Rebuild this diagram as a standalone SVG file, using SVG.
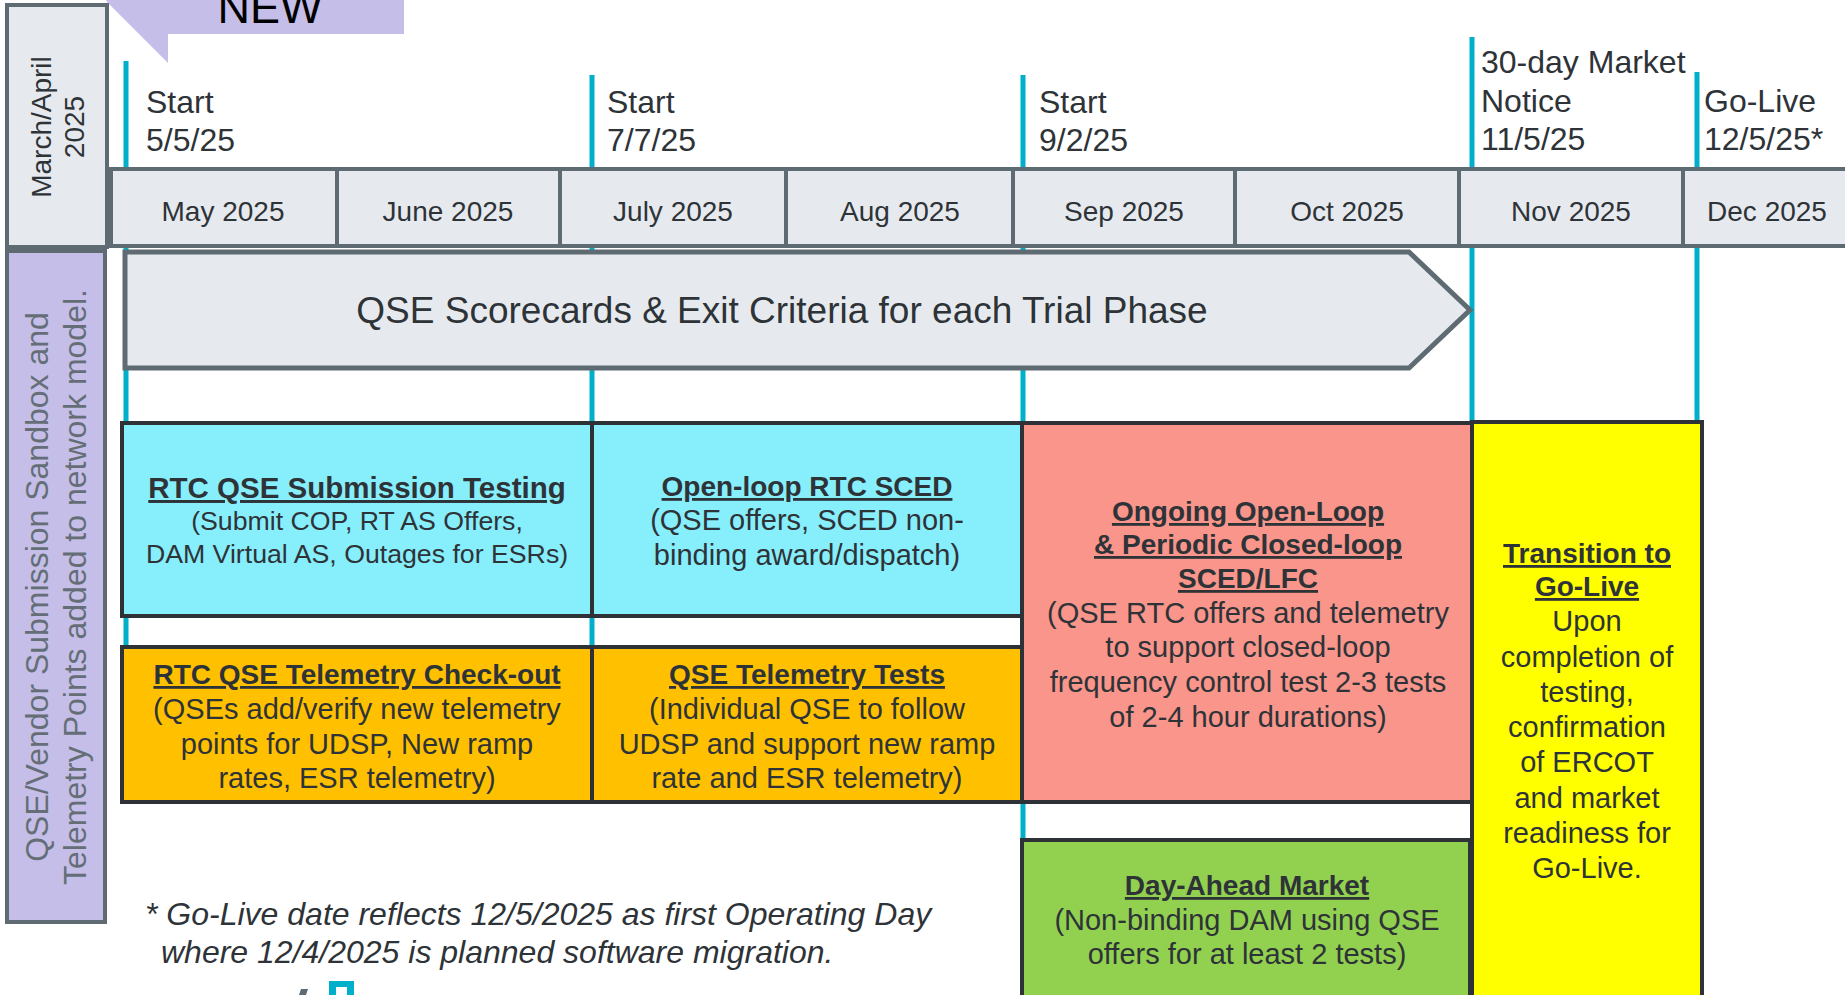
<svg xmlns="http://www.w3.org/2000/svg" width="1845" height="995" viewBox="0 0 1845 995">
<style>
text{font-family:"Liberation Sans",Arial,sans-serif;fill:#2e3338}
.lbl{font-size:32px}
.mon{font-size:28px;text-anchor:middle}
.cell{fill:#e6eaee;stroke:#5f6b73;stroke-width:4}
.box{stroke:#2e3237;stroke-width:4}
.t{font-size:28px;font-weight:bold;text-decoration:underline;text-anchor:middle}
.b{font-size:29px;text-anchor:middle}
.cy{stroke:#00b0ca;stroke-width:5;fill:none}
.side{font-size:32px;fill:#656e76;text-anchor:middle}
</style>
<rect width="1845" height="995" fill="#ffffff"/>
<g id="connectors">
<line class="cy" x1="126" y1="61" x2="126" y2="647"/>
<line class="cy" x1="592" y1="75" x2="592" y2="647"/>
<line class="cy" x1="1023" y1="75" x2="1023" y2="840"/>
<line class="cy" x1="1472" y1="37" x2="1472" y2="422"/>
<line class="cy" x1="1697" y1="72" x2="1697" y2="422"/>
</g>
<g id="new-tab">
<polygon points="106,0 404,0 404,34 168,34 168,63 108,3" fill="#c4bee8"/>
<text x="270" y="23" font-size="45" text-anchor="middle" style="fill:#000">NEW</text>
</g>
<g id="march-april">
<rect x="7" y="5" width="100" height="242" class="cell"/>
<text class="mon" transform="translate(51,127) rotate(-90)">March/April</text>
<text class="mon" transform="translate(84,127) rotate(-90)">2025</text>
</g>
<g id="side-label">
<rect x="7" y="251" width="98" height="671" fill="#c4bee8" stroke="#5f6b73" stroke-width="4"/>
<text class="side" transform="translate(48,587) rotate(-90)">QSE/Vendor Submission Sandbox and</text>
<text class="side" transform="translate(86,587) rotate(-90)">Telemetry Points added to network model.</text>
</g>
<g id="months">
<rect class="cell" x="111" y="169" width="226" height="77"/>
<rect class="cell" x="337" y="169" width="223" height="77"/>
<rect class="cell" x="560" y="169" width="226" height="77"/>
<rect class="cell" x="786" y="169" width="227" height="77"/>
<rect class="cell" x="1013" y="169" width="222" height="77"/>
<rect class="cell" x="1235" y="169" width="224" height="77"/>
<rect class="cell" x="1459" y="169" width="224" height="77"/>
<rect class="cell" x="1683" y="169" width="180" height="77"/>
<text class="mon" x="223" y="221">May 2025</text>
<text class="mon" x="448" y="221">June 2025</text>
<text class="mon" x="673" y="221">July 2025</text>
<text class="mon" x="900" y="221">Aug 2025</text>
<text class="mon" x="1124" y="221">Sep 2025</text>
<text class="mon" x="1347" y="221">Oct 2025</text>
<text class="mon" x="1571" y="221">Nov 2025</text>
<text class="mon" x="1767" y="221">Dec 2025</text>
</g>
<g id="milestones">
<text class="lbl" x="146" y="113">Start</text>
<text class="lbl" x="146" y="151">5/5/25</text>
<text class="lbl" x="607" y="113">Start</text>
<text class="lbl" x="607" y="151">7/7/25</text>
<text class="lbl" x="1039" y="113">Start</text>
<text class="lbl" x="1039" y="151">9/2/25</text>
<text class="lbl" x="1481" y="73">30-day Market</text>
<text class="lbl" x="1481" y="112">Notice</text>
<text class="lbl" x="1481" y="150">11/5/25</text>
<text class="lbl" x="1704" y="112">Go-Live</text>
<text class="lbl" x="1704" y="150">12/5/25*</text>
</g>
<g id="scorecards">
<polygon points="125,252 1409,252 1470,310 1409,368 125,368" fill="#e6eaee" stroke="#5f6b73" stroke-width="5"/>
<text x="782" y="323" font-size="37" text-anchor="middle">QSE Scorecards &amp; Exit Criteria for each Trial Phase</text>
</g>
<g id="rtc-submission">
<rect class="box" x="122" y="423" width="470" height="193" fill="#87eefc"/>
<text class="t" x="357" y="498" style="font-size:29.5px">RTC QSE Submission Testing</text>
<text class="b" x="357" y="530" style="font-size:26.7px">(Submit COP, RT AS Offers,</text>
<text class="b" x="357" y="563" style="font-size:26.7px">DAM Virtual AS, Outages for ESRs)</text>
</g>
<g id="open-loop">
<rect class="box" x="592" y="423" width="430" height="193" fill="#87eefc"/>
<text class="t" x="807" y="496">Open-loop RTC SCED</text>
<text class="b" x="807" y="530">(QSE offers, SCED non-</text>
<text class="b" x="807" y="565">binding award/dispatch)</text>
</g>
<g id="telemetry-checkout">
<rect class="box" x="122" y="647" width="470" height="155" fill="#ffc000"/>
<text class="t" x="357" y="684">RTC QSE Telemetry Check-out</text>
<text class="b" x="357" y="719">(QSEs add/verify new telemetry</text>
<text class="b" x="357" y="754">points for UDSP, New ramp</text>
<text class="b" x="357" y="788">rates, ESR telemetry)</text>
</g>
<g id="telemetry-tests">
<rect class="box" x="592" y="647" width="430" height="155" fill="#ffc000"/>
<text class="t" x="807" y="684">QSE Telemetry Tests</text>
<text class="b" x="807" y="719">(Individual QSE to follow</text>
<text class="b" x="807" y="754">UDSP and support new ramp</text>
<text class="b" x="807" y="788">rate and ESR telemetry)</text>
</g>
<g id="closed-loop">
<rect class="box" x="1022" y="423" width="450" height="379" fill="#f9958a"/>
<text class="t" x="1248" y="521">Ongoing Open-Loop</text>
<text class="t" x="1248" y="554">&amp; Periodic Closed-loop</text>
<text class="t" x="1248" y="588">SCED/LFC</text>
<text class="b" x="1248" y="623">(QSE RTC offers and telemetry</text>
<text class="b" x="1248" y="657">to support closed-loop</text>
<text class="b" x="1248" y="692">frequency control test 2-3 tests</text>
<text class="b" x="1248" y="727">of 2-4 hour durations)</text>
</g>
<g id="day-ahead">
<rect class="box" x="1022" y="840" width="448" height="170" fill="#92d050"/>
<text class="t" x="1247" y="895">Day-Ahead Market</text>
<text class="b" x="1247" y="930">(Non-binding DAM using QSE</text>
<text class="b" x="1247" y="964">offers for at least 2 tests)</text>
</g>
<g id="go-live">
<rect class="box" x="1472" y="422" width="230" height="590" fill="#ffff00"/>
<text class="t" x="1587" y="563">Transition to</text>
<text class="t" x="1587" y="596">Go-Live</text>
<text class="b" x="1587" y="631">Upon</text>
<text class="b" x="1587" y="667">completion of</text>
<text class="b" x="1587" y="702">testing,</text>
<text class="b" x="1587" y="737">confirmation</text>
<text class="b" x="1587" y="772">of ERCOT</text>
<text class="b" x="1587" y="808">and market</text>
<text class="b" x="1587" y="843">readiness for</text>
<text class="b" x="1587" y="878">Go-Live.</text>
</g>
<g id="footnote">
<text x="145" y="925" font-size="32" font-style="italic">* Go-Live date reflects 12/5/2025 as first Operating Day</text>
<text x="161" y="963" font-size="32" font-style="italic">where 12/4/2025 is planned software migration.</text>
</g>
<g id="logo-fragment">
<polygon points="301,989 308,989 306,995 299,995" fill="#5f6b73"/>
<path d="M329,995 V981 H354 V995 H347 V987 H336 V995 Z" fill="#00b0ca"/>
</g>
</svg>
